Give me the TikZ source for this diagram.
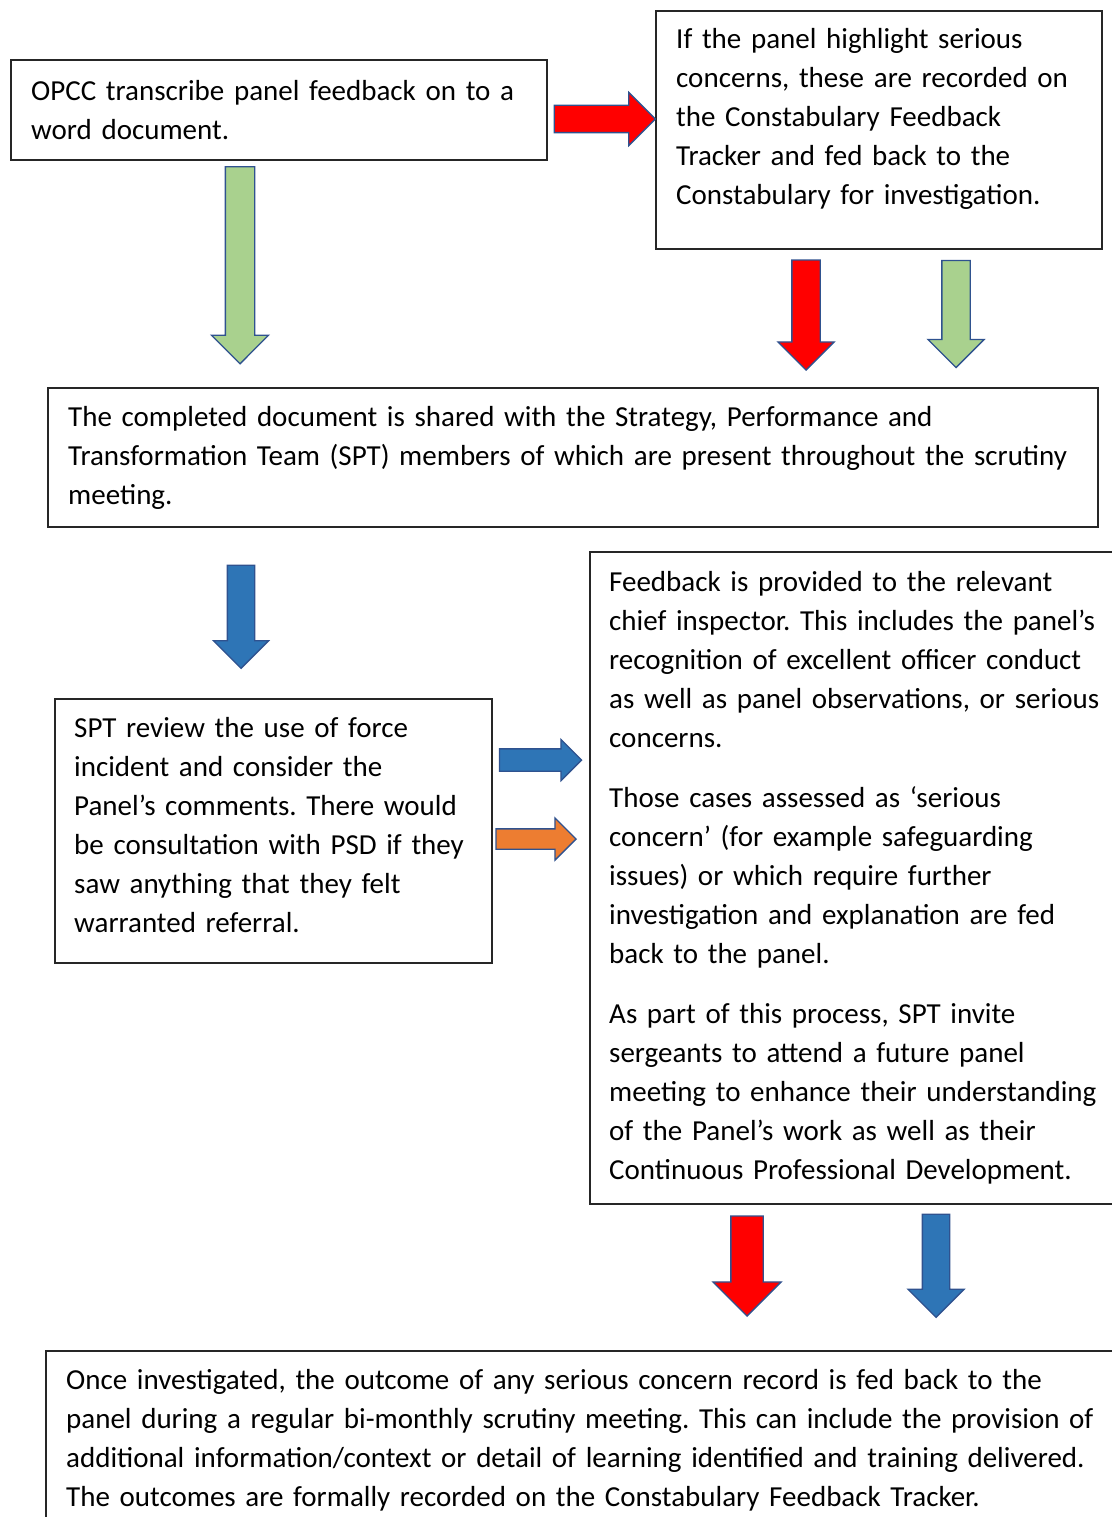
\documentclass[tikz,border=0pt]{standalone}
\usepackage{fontspec}
\setmainfont{Carlito}
\usetikzlibrary{shapes.arrows}

\definecolor{arrowred}{HTML}{FF0000}
\definecolor{arrowgreen}{HTML}{A9D18E}
\definecolor{arrowblue}{HTML}{2E75B6}
\definecolor{arroworange}{HTML}{ED7D31}
\definecolor{arrowedge}{HTML}{2F528F}
\definecolor{boxedge}{HTML}{262626}

\begin{document}
\frenchspacing
\begin{tikzpicture}
[x=1pt,y=-1pt,%
  textbox/.style={draw=boxedge,line width=2.4pt,anchor=north west,align=left,%
    inner xsep=20pt,inner ysep=0pt,font=\fontsize{29}{39}\selectfont},%
  blockarrow/.style={single arrow,draw=arrowedge,line width=1.3pt,%
    inner xsep=0pt,single arrow tip angle=90}]
\useasboundingbox (0,0) rectangle (1111,1517);
% text boxes
\node[textbox,text width=496pt,minimum height=100pt] (opcc) at (10,59)
  {OPCC transcribe panel feedback on to a\\word document.};
\node[textbox,text width=406pt,minimum height=238pt] (panel) at (655,10)
  {If the panel highlight serious\\concerns, these are recorded on\\the Constabulary Feedback\\Tracker and fed back to the\\Constabulary for investigation.\rule[-27pt]{0pt}{0pt}};
\node[textbox,text width=1010pt,minimum height=139pt] (shared) at (47,387)
  {The completed document is shared with the Strategy, Performance and\\Transformation Team (SPT) members of which are present throughout the scrutiny\\meeting.};
\node[textbox,inner xsep=19pt,text width=399pt,minimum height=264pt] (review) at (54,698)
  {SPT review the use of force\\incident and consider the\\Panel’s comments. There would\\be consultation with PSD if they\\saw anything that they felt\\warranted referral.\rule[-13pt]{0pt}{0pt}};
\node[textbox,inner xsep=19pt,text width=510pt,minimum height=652pt] (chief) at (589,551)
  {Feedback is provided to the relevant\\chief inspector. This includes the panel’s\\recognition of excellent officer conduct\\as well as panel observations, or serious\\concerns.\\[21pt]
   Those cases assessed as ‘serious\\concern’ (for example safeguarding\\issues) or which require further\\investigation and explanation are fed\\back to the panel.\\[21pt]
   As part of this process, SPT invite\\sergeants to attend a future panel\\meeting to enhance their understanding\\of the Panel’s work as well as their\\Continuous Professional Development.};
\node[textbox,text width=1050pt,minimum height=178pt] (outcome) at (45,1350)
  {Once investigated, the outcome of any serious concern record is fed back to the\\panel during a regular bi-monthly scrutiny meeting. This can include the provision of\\additional information/context or detail of learning identified and training delivered.\\The outcomes are formally recorded on the Constabulary Feedback Tracker.};
% block arrows
\node[blockarrow,fill=arrowred,minimum height=101pt,inner ysep=13pt,
  single arrow head extend=13pt] (toPanel) at (598,119) {};
\node[blockarrow,fill=arrowgreen,rotate=-90,minimum height=197pt,inner ysep=14pt,
  single arrow head extend=14pt] (toShared) at (240,258) {};
\node[blockarrow,fill=arrowred,rotate=-90,minimum height=110pt,inner ysep=13.5pt,
  single arrow head extend=14pt] (panelRed) at (806,308) {};
\node[blockarrow,fill=arrowgreen,rotate=-90,minimum height=107pt,inner ysep=13.5pt,
  single arrow head extend=14pt] (panelGreen) at (956,307) {};
\node[blockarrow,fill=arrowblue,rotate=-90,minimum height=103pt,inner ysep=13pt,
  single arrow head extend=14pt] (toReview) at (241,610) {};
\node[blockarrow,fill=arrowblue,minimum height=82pt,inner ysep=10.5pt,
  single arrow head extend=9.5pt] (reviewBlue) at (535,760) {};
\node[blockarrow,fill=arroworange,minimum height=80pt,inner ysep=9.5pt,
  single arrow head extend=11pt] (reviewOrange) at (531,839) {};
\node[blockarrow,fill=arrowred,rotate=-90,minimum height=100pt,inner ysep=15.5pt,
  single arrow head extend=18pt] (chiefRed) at (747,1258) {};
\node[blockarrow,fill=arrowblue,rotate=-90,minimum height=103pt,inner ysep=13pt,
  single arrow head extend=14.5pt] (chiefBlue) at (936,1259) {};
\end{tikzpicture}
\end{document}
